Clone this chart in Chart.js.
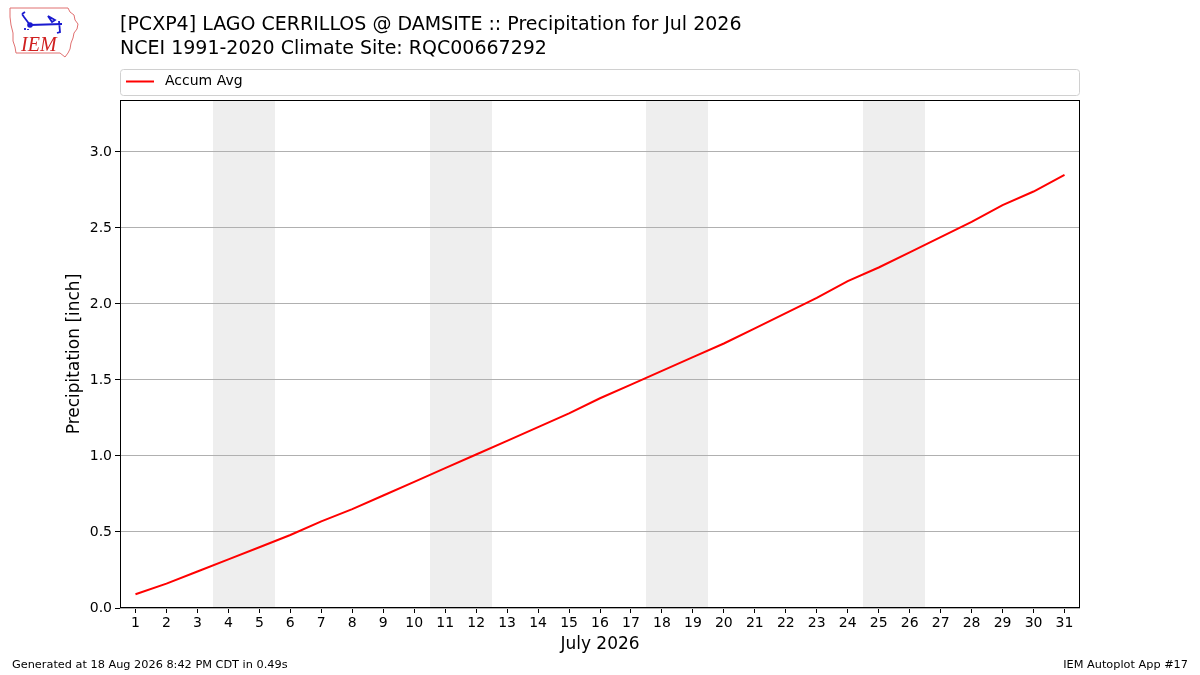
<!DOCTYPE html>
<html>
<head>
<meta charset="utf-8">
<script src="https://cdn.jsdelivr.net/npm/chart.js@4/dist/chart.umd.min.js"></script>
<style>
  body { margin: 0; background: #fff; }
  #wrap { position: relative; width: 1200px; height: 675px; font-family: "DejaVu Sans", sans-serif; color: #000; }
  #myChart { position: absolute; left: 0; top: 0; }
  .title { position: absolute; left: 120px; font-size: 19px; white-space: nowrap; line-height: 23px; }
  .foot { position: absolute; top: 658px; font-size: 11.3px; white-space: nowrap; line-height: 14px; }
  #logo { position: absolute; left: 8px; top: 5px; }
</style>
</head>
<body>
<div id="wrap">
  <canvas id="myChart" width="1200" height="675"></canvas>
  <svg id="logo" width="72" height="54" viewBox="0 0 72 54">
    <path d="M2 3 L60 3 L62 7 L66 10 L67 15 L70 19 L69 24 L66 28 L65 33 L63 38 L62 44 L60 48 L57 52 L52 48 L8 48 L7 42 L5 36 L5 28 L3 20 L2 12 Z"
          fill="none" stroke="#e07070" stroke-width="1"/>
    <path d="M14 9 L17 7 M14 9 L16 12 L22 20 M22 20 L54 19 M40 11 L47 15 L44 17 Z M51 16 L52 27 L49 28 M17 23 L17 25 M20 24 L20 25"
          fill="none" stroke="#1a1ad0" stroke-width="1.8"/>
    <circle cx="22" cy="20" r="2.8" fill="#1a1ad0"/>
    <text x="13" y="46" font-family="Liberation Serif, serif" font-style="italic" font-size="20" fill="#d02020">IEM</text>
  </svg>
  <div class="title" style="top:12px">[PCXP4] LAGO CERRILLOS @ DAMSITE :: Precipitation for Jul 2026</div>
  <div class="title" style="top:36px">NCEI 1991-2020 Climate Site: RQC00667292</div>
  <div class="foot" style="left:12px">Generated at 18 Aug 2026 8:42 PM CDT in 0.49s</div>
  <div class="foot" style="right:12px">IEM Autoplot App #17</div>
</div>
<script>
// DATA
const days = [1,2,3,4,5,6,7,8,9,10,11,12,13,14,15,16,17,18,19,20,21,22,23,24,25,26,27,28,29,30,31];
const accumAvg = [0.09,0.16,0.24,0.32,0.40,0.48,0.57,0.65,0.74,0.83,0.92,1.01,1.10,1.19,1.28,1.38,
                  1.47,1.56,1.65,1.74,1.84,1.94,2.04,2.15,2.24,2.34,2.44,2.54,2.65,2.74,2.85];
const weekendDays = [4,5,11,12,18,19,25,26];
const yTicks = [0.0,0.5,1.0,1.5,2.0,2.5,3.0];
const seriesLabel = 'Accum Avg';

const fontFamily = '"DejaVu Sans", sans-serif';

// weekend shading, frame and legend box
const decorations = {
  id: 'decorations',
  beforeDraw(chart) {
    const {ctx, chartArea, scales: {x}} = chart;
    ctx.save();
    ctx.fillStyle = '#eeeeee';
    weekendDays.forEach(d => {
      const x0 = Math.round(x.getPixelForValue(d - 0.5));
      const x1 = Math.round(x.getPixelForValue(d + 0.5));
      ctx.fillRect(x0, chartArea.top, x1 - x0, chartArea.bottom - chartArea.top);
    });
    ctx.restore();
  },
  afterDraw(chart) {
    const {ctx, chartArea} = chart;
    ctx.save();
    // frame
    ctx.strokeStyle = '#000';
    ctx.lineWidth = 1;
    ctx.strokeRect(chartArea.left + 0.5, chartArea.top + 0.5,
      chartArea.right - chartArea.left - 1, chartArea.bottom - chartArea.top - 1);
    // legend
    const lx = chartArea.left, ly = 69.5, lw = chartArea.right - chartArea.left, lh = 26;
    ctx.strokeStyle = '#d0d0d0';
    ctx.fillStyle = 'rgba(255,255,255,0.8)';
    ctx.beginPath();
    ctx.roundRect(lx + 0.5, ly, lw - 1, lh, 3);
    ctx.fill();
    ctx.stroke();
    ctx.strokeStyle = 'red';
    ctx.lineWidth = 2;
    ctx.beginPath();
    ctx.moveTo(lx + 6, ly + 12);
    ctx.lineTo(lx + 34, ly + 12);
    ctx.stroke();
    ctx.fillStyle = '#000';
    ctx.font = '14px ' + fontFamily;
    ctx.textBaseline = 'middle';
    ctx.fillText(chart.data.datasets[0].label, lx + 45, ly + 12);
    ctx.restore();
  }
};

let myChart = document.getElementById('myChart').getContext('2d');
window.chart = new Chart(myChart, {
  type: 'line',
  data: {
    labels: days,
    datasets: [{
      label: seriesLabel,
      data: days.map((d, i) => ({x: d, y: accumAvg[i]})),
      borderColor: 'red',
      borderWidth: 2,
      pointRadius: 0,
      tension: 0,
      fill: false
    }]
  },
  options: {
    responsive: false,
    animation: false,
    devicePixelRatio: 1,
    layout: { padding: { left: 60, right: 120, top: 100, bottom: 16 } },
    plugins: {
      legend: { display: false },
      title: { display: false },
      tooltip: { enabled: false }
    },
    scales: {
      x: {
        type: 'linear',
        min: 0.5,
        max: 31.5,
        afterBuildTicks: s => { s.ticks = days.map(v => ({value: v})); },
        afterFit: s => { s.height = 51; },
        ticks: { color: '#000', font: { family: fontFamily, size: 14 }, padding: 2, maxRotation: 0, autoSkip: false },
        grid: { drawOnChartArea: false, tickLength: 5, tickColor: '#000' },
        border: { display: false },
        title: { display: true, text: 'July 2026', color: '#000', font: { family: fontFamily, size: 17 }, padding: 4 }
      },
      y: {
        type: 'linear',
        min: 0,
        max: 3.342,
        afterBuildTicks: s => { s.ticks = yTicks.map(v => ({value: v})); },
        afterFit: s => { s.width = 60; },
        ticks: { color: '#000', font: { family: fontFamily, size: 14 }, padding: 3, callback: v => v.toFixed(1) },
        grid: { color: '#b0b0b0', tickLength: 5, tickColor: '#000' },
        border: { display: false },
        title: { display: true, text: 'Precipitation [inch]', color: '#000', font: { family: fontFamily, size: 17 }, padding: 4 }
      }
    }
  },
  plugins: [decorations]
});
</script>
</body>
</html>
